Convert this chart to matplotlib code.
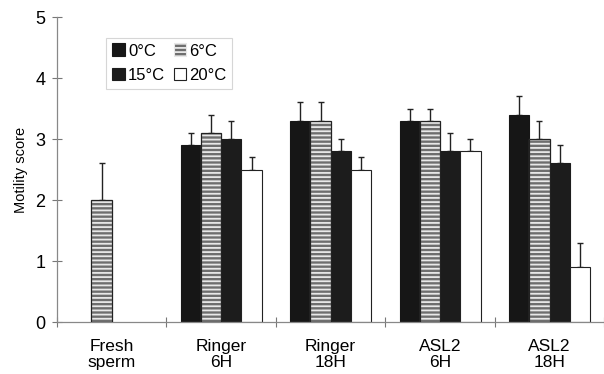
import matplotlib.pyplot as plt
import matplotlib as mpl
import numpy as np

mpl.rcParams['font.family'] = ['Liberation Sans', 'DejaVu Sans']
mpl.rcParams['hatch.linewidth'] = 1.3

groups = ['Fresh\nsperm', 'Ringer\n6H', 'Ringer\n18H', 'ASL2\n6H', 'ASL2\n18H']
temps = ['0°C', '6°C', '15°C', '20°C']

# motility score per temperature (None = not measured)
t0 = [None, 2.9, 3.3, 3.3, 3.4]
t6 = [2.0, 3.1, 3.3, 3.3, 3.0]
t15 = [None, 3.0, 2.8, 2.8, 2.6]
t20 = [None, 2.5, 2.5, 2.8, 0.9]
e0 = [None, 0.2, 0.3, 0.2, 0.3]
e6 = [0.6, 0.3, 0.3, 0.2, 0.3]
e15 = [None, 0.3, 0.2, 0.3, 0.3]
e20 = [None, 0.2, 0.2, 0.2, 0.4]

fig = plt.figure(figsize=(6.04, 3.74), dpi=100)
ax = fig.add_axes([0.0944, 0.139, 0.906, 0.8155])

w = 0.185
styles = [
    dict(facecolor='#161616', edgecolor='#161616'),
    dict(facecolor='#6e6e6e', edgecolor='#e8e8e8', hatch='----'),
    dict(facecolor='#1c1c1c', edgecolor='#1c1c1c'),
    dict(facecolor='white', edgecolor='#222222'),
]
vals = [t0, t6, t15, t20]
errs = [e0, e6, e15, e20]
handles = []
for i in range(4):
    xs, ys, es = [], [], []
    for g in range(5):
        if vals[i][g] is None:
            continue
        xs.append(g + 0.5 + (i - 1.5) * w)
        ys.append(vals[i][g])
        es.append(errs[i][g])
    b = ax.bar(xs, ys, width=w, linewidth=0.8, label=temps[i], zorder=2, **styles[i])
    if i == 1:
        # outline of striped bars
        ax.bar(xs, ys, width=w, facecolor='none', edgecolor='#222222', linewidth=0.9, zorder=3)
    ax.errorbar(xs, ys, yerr=[np.zeros(len(es)), es], fmt='none', ecolor='#222222',
                elinewidth=1.0, capsize=2.5, capthick=1.0, zorder=1)
    handles.append(b)

ax.set_xlim(0, 5)
ax.set_ylim(0, 5)
ax.set_yticks([0, 1, 2, 3, 4, 5])
ax.set_xticks([0, 1, 2, 3, 4, 5])
ax.set_xticklabels([])
ax.tick_params(axis='both', direction='inout', length=7, width=0.8, color='#777777',
               labelsize=13)
ax.tick_params(axis='y', pad=5)
for s in ['top', 'right']:
    ax.spines[s].set_visible(False)
for s in ['left', 'bottom']:
    ax.spines[s].set_color('#888888')
    ax.spines[s].set_linewidth(0.9)

for g, name in enumerate(groups):
    ax.text(g + 0.5, -0.28, name, ha='center', va='top', fontsize=12.5,
            linespacing=1.1, transform=ax.transData)

ax.set_ylabel('Motility score', fontsize=10.5, labelpad=5)

order = [0, 2, 1, 3]
leg = ax.legend(handles=[handles[k] for k in order], labels=[temps[k] for k in order],
                ncol=2, loc='upper left',
                bbox_to_anchor=(0.075, 0.96), fontsize=12, frameon=True,
                fancybox=False, edgecolor='#cccccc', handlelength=0.75,
                handleheight=0.8, handletextpad=0.2, columnspacing=0.5,
                labelspacing=0.55, borderpad=0.35)
leg.get_frame().set_linewidth(0.8)

fig.savefig('out.png', dpi=100)
